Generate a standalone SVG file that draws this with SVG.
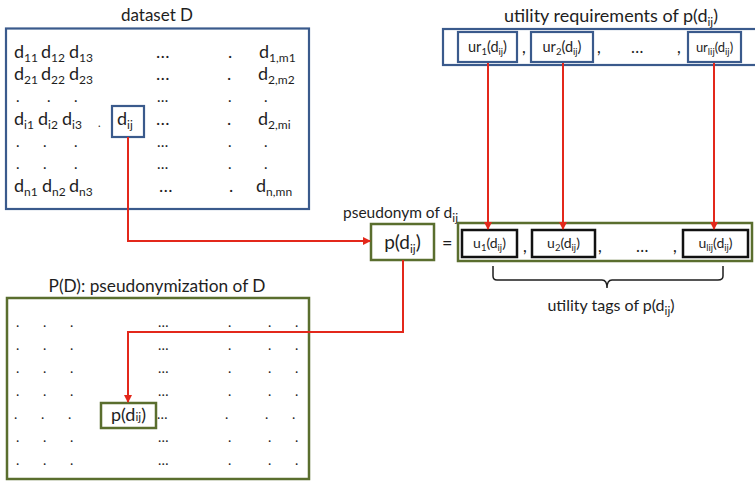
<svg xmlns="http://www.w3.org/2000/svg" width="755" height="481" viewBox="0 0 755 481">
<style>
text{font-family:Lato,"Open Sans","Liberation Sans",sans-serif;fill:#1e1e1e}
.t{font-size:16.5px}
.d{font-size:18px}
.s{font-size:12px;baseline-shift:-4px}
.s2{font-size:9.5px;baseline-shift:-3px}
.dot{font-size:14px}
.pd{font-size:15px}
.blue{fill:#fff;stroke:#3a5a8c;stroke-width:2.2}
.green{fill:#fff;stroke:#5a6e2e;stroke-width:2.5}
.blk{fill:#fff;stroke:#111;stroke-width:2.5}
.red{fill:none;stroke:#e3281b;stroke-width:2}
.m{text-anchor:middle}
</style>
<defs>
<marker id="ah" markerWidth="8" markerHeight="8" refX="7" refY="4" orient="auto" markerUnits="userSpaceOnUse">
<path d="M0,0 L8,4 L0,8 z" fill="#e3281b"/>
</marker>
</defs>

<g id="dataset">
<text class="t m" x="157" y="21" style="font-size:17px">dataset D</text>
<rect class="blue" x="6" y="28.5" width="303" height="180.5"/>
<g class="d">
<text x="14" y="58">d<tspan class="s">11</tspan></text>
<text x="41" y="58">d<tspan class="s">12</tspan></text>
<text x="69" y="58">d<tspan class="s">13</tspan></text>
<text x="156" y="58">…</text>
<text x="228" y="58">.</text>
<text x="259" y="58">d<tspan class="s">1,m1</tspan></text>

<text x="14" y="80">d<tspan class="s">21</tspan></text>
<text x="41" y="80">d<tspan class="s">22</tspan></text>
<text x="69" y="80">d<tspan class="s">23</tspan></text>
<text x="156" y="80">…</text>
<text x="227" y="80">.</text>
<text x="258" y="80">d<tspan class="s">2,m2</tspan></text>

<text class="pd" x="16" y="102">.</text>
<text class="pd" x="47" y="102">.</text>
<text class="pd" x="74" y="102">.</text>
<text class="pd" x="157" y="102">…</text>
<text class="pd" x="228" y="102">.</text>
<text class="pd" x="264" y="102">.</text>

<text x="14" y="125">d<tspan class="s">i1</tspan></text>
<text x="38" y="125">d<tspan class="s">i2</tspan></text>
<text x="62" y="125">d<tspan class="s">i3</tspan></text>
<text x="98" y="127" style="font-size:11px">.</text>
<text x="156" y="125">…</text>
<text x="227" y="125">.</text>
<text x="258" y="125">d<tspan class="s">2,mi</tspan></text>

<text class="pd" x="16" y="147">.</text>
<text class="pd" x="43" y="147">.</text>
<text class="pd" x="74" y="147">.</text>
<text class="pd" x="157" y="147">…</text>
<text class="pd" x="228" y="147">.</text>
<text class="pd" x="264" y="147">.</text>

<text class="pd" x="16" y="169">.</text>
<text class="pd" x="43" y="169">.</text>
<text class="pd" x="74" y="169">.</text>
<text class="pd" x="157" y="169">…</text>
<text class="pd" x="228" y="169">.</text>
<text class="pd" x="264" y="169">.</text>

<text x="14" y="192">d<tspan class="s">n1</tspan></text>
<text x="42" y="192">d<tspan class="s">n2</tspan></text>
<text x="69" y="192">d<tspan class="s">n3</tspan></text>
<text x="159" y="192">…</text>
<text x="229" y="192">.</text>
<text x="256" y="192">d<tspan class="s">n,mn</tspan></text>
</g>
</g>

<g id="dij">
<rect class="blue" x="112" y="106" width="32" height="31"/>
<text class="d" x="117" y="125">d<tspan class="s">ij</tspan></text>
</g>

<g id="requirements">
<text class="t m" x="611" y="22" style="font-size:18px">utility requirements of p(d<tspan class="s">ij</tspan>)</text>
<rect class="blue" x="443" y="29" width="320" height="36"/>
<text class="t" x="522" y="53">,</text>
<text class="t" x="597" y="53">,</text>
<text class="t" x="631" y="53">…</text>
<text class="t" x="677" y="53">,</text>
</g>
<g id="ur1">
<rect class="blue" x="458" y="32" width="59" height="30"/>
<text class="m" style="font-size:14.5px" x="487.5" y="52">ur<tspan class="s2">1</tspan>(d<tspan class="s2">ij</tspan>)</text>
</g>
<g id="ur2">
<rect class="blue" x="531" y="32" width="62" height="30"/>
<text class="m" style="font-size:14.5px" x="562" y="52">ur<tspan class="s2">2</tspan>(d<tspan class="s2">ij</tspan>)</text>
</g>
<g id="urlij">
<rect class="blue" x="688" y="32" width="53" height="30"/>
<text class="m" style="font-size:13px" x="714.5" y="52">ur<tspan class="s2">lij</tspan>(d<tspan class="s2">ij</tspan>)</text>
</g>

<g id="pseudonym">
<text class="t" x="343" y="218" style="font-size:15.5px">pseudonym of d<tspan class="s">ij</tspan></text>
<rect class="green" x="371" y="224" width="63" height="36"/>
<text class="m" style="font-size:19px" x="402.5" y="249">p(d<tspan class="s">ij</tspan>)</text>
<text class="d" x="442" y="249">=</text>
</g>

<g id="tags">
<rect class="green" x="458" y="223" width="294" height="38"/>
<text class="t" x="523" y="252">,</text>
<text class="t" x="598" y="252">,</text>
<text class="t" x="636" y="252">…</text>
<text class="t" x="673" y="252">,</text>
</g>
<g id="u1">
<rect class="blk" x="462" y="230" width="55" height="27"/>
<text class="m" style="font-size:14px" x="489.5" y="248">u<tspan class="s2">1</tspan>(d<tspan class="s2">ij</tspan>)</text>
</g>
<g id="u2">
<rect class="blk" x="532" y="230" width="63" height="27"/>
<text class="m" style="font-size:14px" x="563.5" y="248">u<tspan class="s2">2</tspan>(d<tspan class="s2">ij</tspan>)</text>
</g>
<g id="ulij">
<rect class="blk" x="683" y="230" width="65" height="27"/>
<text class="m" style="font-size:14px" x="715.5" y="248">u<tspan class="s2">lij</tspan>(d<tspan class="s2">ij</tspan>)</text>
</g>

<g id="brace">
<path d="M493,266 V276 Q493,280 497,280 H602 Q607,280 607,288 Q607,280 612,280 H718 Q723,280 723,276 V266" fill="none" stroke="#1e1e1e" stroke-width="1.5"/>
<text class="m" style="font-size:16px" x="611" y="311">utility tags of p(d<tspan class="s">ij</tspan>)</text>
</g>

<g id="pseudonymization">
<text class="t m" x="157" y="292" style="font-size:17.3px">P(D): pseudonymization of D</text>
<rect class="green" x="7" y="298" width="302" height="181"/>
<g class="dot">
<text x="16" y="327">.</text><text x="43" y="327">.</text><text x="70" y="327">.</text><text x="158" y="327">…</text><text x="228" y="327">.</text><text x="268" y="327">.</text><text x="295" y="327">.</text>
<text x="16" y="350">.</text><text x="43" y="350">.</text><text x="70" y="350">.</text><text x="158" y="350">…</text><text x="228" y="350">.</text><text x="268" y="350">.</text><text x="295" y="350">.</text>
<text x="16" y="373">.</text><text x="43" y="373">.</text><text x="70" y="373">.</text><text x="158" y="373">…</text><text x="228" y="373">.</text><text x="268" y="373">.</text><text x="295" y="373">.</text>
<text x="16" y="396">.</text><text x="43" y="396">.</text><text x="70" y="396">.</text><text x="158" y="396">…</text><text x="228" y="396">.</text><text x="268" y="396">.</text><text x="295" y="396">.</text>
<text x="14" y="419">.</text><text x="41" y="419">.</text><text x="68" y="419">.</text><text x="157" y="419">…</text><text x="225" y="419">.</text><text x="265" y="419">.</text><text x="292" y="419">.</text>
<text x="16" y="442">.</text><text x="43" y="442">.</text><text x="70" y="442">.</text><text x="158" y="442">…</text><text x="228" y="442">.</text><text x="268" y="442">.</text><text x="295" y="442">.</text>
<text x="16" y="465">.</text><text x="43" y="465">.</text><text x="70" y="465">.</text><text x="158" y="465">…</text><text x="228" y="465">.</text><text x="268" y="465">.</text><text x="295" y="465">.</text>
</g>
</g>
<g id="pdij-cell">
<rect class="green" x="101" y="403" width="55" height="25"/>
<text class="m" style="font-size:18px" x="128.5" y="421">p(d<tspan style="font-size:12px">ij</tspan>)</text>
</g>

<g id="connectors">
<path class="red" d="M128,137 V241 H370" marker-end="url(#ah)"/>
<path class="red" d="M488,63 V229" marker-end="url(#ah)"/>
<path class="red" d="M563,63 V229" marker-end="url(#ah)"/>
<path class="red" d="M714,63 V229" marker-end="url(#ah)"/>
<path class="red" d="M403,260 V332 H128 V402" marker-end="url(#ah)"/>
</g>
</svg>
